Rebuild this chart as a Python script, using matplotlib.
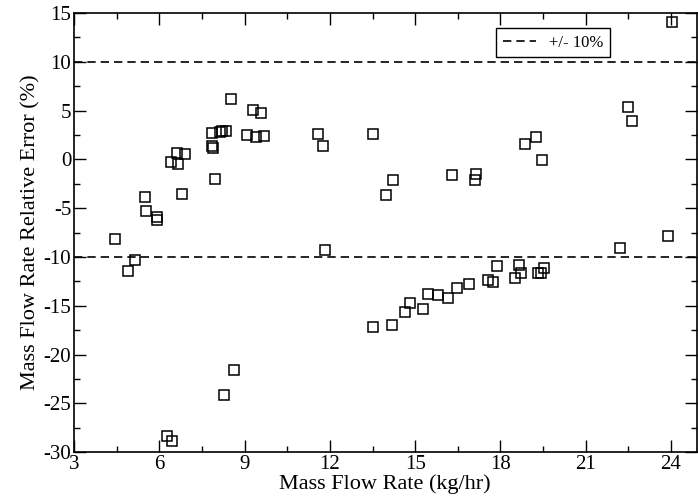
import numpy as np
import matplotlib
matplotlib.use('Agg')
import matplotlib.pyplot as plt
from matplotlib.ticker import MultipleLocator

# Datos
flow_rate = [4.45, 4.89, 5.14, 5.51, 5.53, 5.93, 5.93, 6.26, 6.45, 6.41, 6.63,
             6.66, 6.79, 6.91, 7.84, 7.90, 7.87, 7.95, 8.13, 8.22, 8.36, 8.29,
             8.51, 8.63, 9.07, 9.30, 9.39, 9.57, 9.68, 11.58, 11.76, 11.82,
             13.50, 13.52, 13.99, 14.20, 14.22, 14.63, 14.83, 15.27, 15.45,
             15.80, 16.15, 16.28, 16.47, 16.91, 17.09, 17.15, 17.56, 17.73,
             17.89, 18.50, 18.67, 18.73, 18.86, 19.26, 19.32, 19.44, 19.47,
             19.52, 22.21, 22.48, 22.63, 23.88, 24.03]
rel_error = [-8.12, -11.43, -10.34, -3.85, -5.31, -5.90, -6.17, -28.36, -28.87,
             -0.26, 0.70, -0.42, -3.57, 0.53, 1.38, 1.18, 2.76, -1.96, 2.82,
             2.90, 2.93, -24.1, 6.24, -21.62, 2.48, 5.05, 2.35, 4.81, 2.38,
             2.58, 1.38, -9.24, 2.65, -17.18, -3.67, -17.0, -2.13, -15.64,
             -14.72, -15.3, -13.82, -13.86, -14.2, -1.55, -13.14, -12.8, -2.13,
             -1.45, -12.39, -12.56, -10.95, -12.12, -10.78, -11.64, 1.56, 2.25,
             -11.64, -11.6, -0.01, -11.13, -9.04, 5.38, 3.95, -7.81, 14.07]
limit = 10

plt.rcParams['font.family'] = ['Liberation Serif', 'DejaVu Serif']
plt.rcParams['axes.unicode_minus'] = False

fig = plt.figure(figsize=(6.98, 5.03), dpi=100)
ax = fig.add_axes([0.106, 0.101, 0.892, 0.873])

ax.plot(flow_rate, rel_error, linestyle='none', marker='s', markersize=7.2,
        markerfacecolor='none', markeredgecolor='black', markeredgewidth=1.1)
ax.axhline(limit, color='black', linestyle=(0, (5, 3)), linewidth=1.2, label='+/- 10%')
ax.axhline(-limit, color='black', linestyle=(0, (5, 3)), linewidth=1.2)

ax.set_xlim(3, 24.9)
ax.set_ylim(-30, 15)
ax.xaxis.set_major_locator(MultipleLocator(3))
ax.xaxis.set_minor_locator(MultipleLocator(1.5))
ax.yaxis.set_major_locator(MultipleLocator(5))
ax.yaxis.set_minor_locator(MultipleLocator(2.5))
ax.tick_params(which='both', direction='in', top=True, right=True, width=1)
ax.tick_params(which='major', length=8.5, labelsize=15, pad=2)
ax.tick_params(which='minor', length=4)
for s in ax.spines.values():
    s.set_linewidth(1.2)

ax.set_xlabel('Mass Flow Rate (kg/hr)', fontsize=16, labelpad=0)
ax.set_ylabel('Mass Flow Rate Relative Error (%)', fontsize=16, labelpad=2)

leg = ax.legend(loc='upper right', bbox_to_anchor=(0.875, 0.985), fontsize=12,
                fancybox=False, framealpha=1, edgecolor='black',
                handlelength=2, borderpad=0.4)
leg.get_frame().set_linewidth(1)

fig.savefig('out.png', dpi=100)
